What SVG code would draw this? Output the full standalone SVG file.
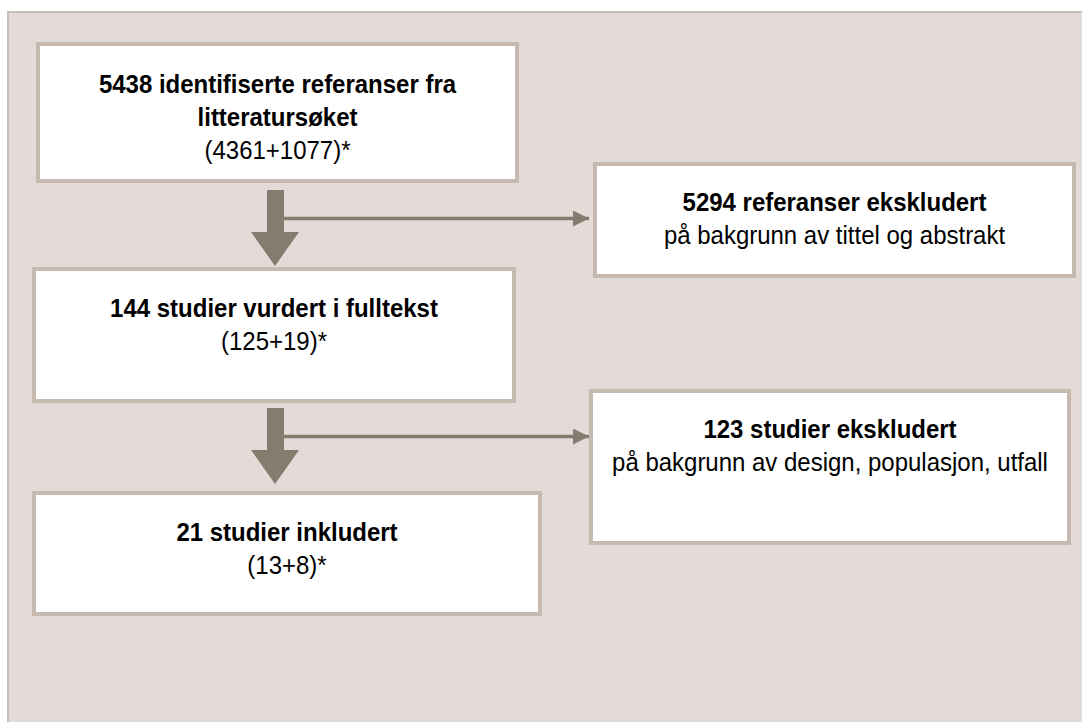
<svg xmlns="http://www.w3.org/2000/svg" width="1082" height="722" viewBox="0 0 1082 722">
<defs>
<style>
.panel{fill:#e2dbd8;stroke:#c9beb6;stroke-width:2}
.box{fill:#ffffff;stroke:#c5b9b0;stroke-width:4}
.t{font-family:"Liberation Sans",Arial,sans-serif;font-size:26.5px;fill:#000;text-anchor:middle}
.b{font-weight:bold}
.big{fill:#857c70}
.thin{stroke:#857c70;stroke-width:3.5;fill:none}
</style>
<marker id="ah" viewBox="0 0 10 10" refX="10" refY="5" markerWidth="17" markerHeight="16" markerUnits="userSpaceOnUse" orient="auto">
<path d="M0,0 L10,5 L0,10 Z" fill="#857c70"/>
</marker>
</defs>
<rect class="panel" x="8" y="12" width="1082" height="720"/>
<g id="connectors">
<polygon class="big" points="267,190 284,190 284,232 299,232 275,266 251,232 267,232"/>
<line class="thin" x1="284" y1="218.5" x2="589" y2="218.5" marker-end="url(#ah)"/>
<polygon class="big" points="267,408 284,408 284,450 299,450 275,484 251,450 267,450"/>
<line class="thin" x1="284" y1="436.5" x2="589" y2="436.5" marker-end="url(#ah)"/>
</g>
<g id="n1">
<rect class="box" x="38" y="44" width="479" height="137"/>
<text class="t b" transform="translate(277.5,93) scale(0.905,1)">5438 identifiserte referanser fra</text>
<text class="t b" transform="translate(277.5,126) scale(0.905,1)">litteratursøket</text>
<text class="t" transform="translate(277.5,159) scale(0.905,1)">(4361+1077)*</text>
</g>
<g id="n2">
<rect class="box" x="595" y="164" width="479" height="112"/>
<text class="t b" transform="translate(834.5,211) scale(0.905,1)">5294 referanser ekskludert</text>
<text class="t" transform="translate(834.5,244) scale(0.905,1)">på bakgrunn av tittel og abstrakt</text>
</g>
<g id="n3">
<rect class="box" x="34" y="269" width="480" height="132"/>
<text class="t b" transform="translate(274,317) scale(0.905,1)">144 studier vurdert i fulltekst</text>
<text class="t" transform="translate(274,350) scale(0.905,1)">(125+19)*</text>
</g>
<g id="n4">
<rect class="box" x="591" y="391" width="478" height="152"/>
<text class="t b" transform="translate(830,438) scale(0.905,1)">123 studier ekskludert</text>
<text class="t" transform="translate(830,471) scale(0.905,1)">på bakgrunn av design, populasjon, utfall</text>
</g>
<g id="n5">
<rect class="box" x="34" y="493" width="506" height="121"/>
<text class="t b" transform="translate(287,541) scale(0.905,1)">21 studier inkludert</text>
<text class="t" transform="translate(287,574) scale(0.905,1)">(13+8)*</text>
</g>
</svg>
